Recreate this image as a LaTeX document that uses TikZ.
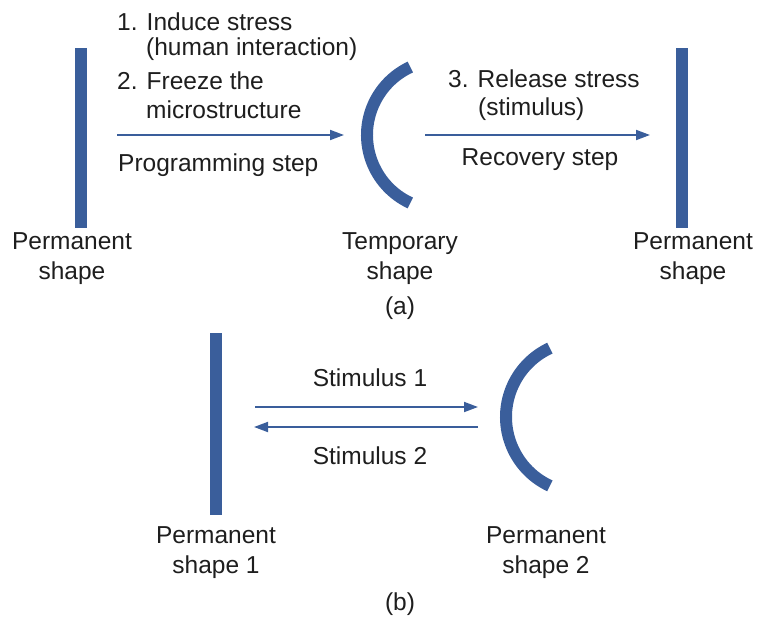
\documentclass[tikz,border=0pt]{standalone}
\usepackage{fontspec}
\setmainfont{Liberation Sans}
\usetikzlibrary{arrows.meta}
\definecolor{shapeblue}{RGB}{58,94,155}
\definecolor{txt}{RGB}{30,30,30}
\tikzset{
  bar/.style={fill=shapeblue, draw=none, minimum width=12pt, inner sep=0pt},
  curve/.style={draw=shapeblue, line width=12pt},
  conn/.style={draw=shapeblue, line width=1.8pt, -{Triangle[length=14pt,width=10pt]}},
  lbl/.style={text=txt, font=\fontsize{24.5}{30}\selectfont, inner sep=0pt, align=center},
  lbll/.style={lbl, align=left, anchor=west},
}
\begin{document}
\begin{tikzpicture}[x=1pt,y=-1pt]
\useasboundingbox (0,0) rectangle (757,621);
% (a)
\node[bar, minimum height=180pt] (barA1) at (81,138) {};
\node[bar, minimum height=180pt] (barA2) at (682,138) {};
\draw[curve] (442,135) ++(115:75) arc[start angle=115, end angle=245, radius=75];
\coordinate (a1s) at (117,135); \coordinate (a1e) at (344,135);
\coordinate (a2s) at (425,135); \coordinate (a2e) at (650,135);
\draw[conn] (a1s) -- (a1e);
\draw[conn] (a2s) -- (a2e);
\node[lbll] (t1) at (117,22) {1. Induce stress};
\node[lbll] (t2) at (146,49) {(human interaction)};
\node[lbll] (t3) at (117,81) {2. Freeze the};
\node[lbll] (t4) at (146,110) {microstructure};
\node[lbll] (t5) at (118,165) {Programming step};
\node[lbll] (t6) at (448,79) {3. Release stress};
\node[lbll] (t7) at (478,109) {(stimulus)};
\node[lbl] (t8) at (540,160) {Recovery step};
\node[lbl, anchor=north] (pA1) at (72,232) {Permanent\\shape};
\node[lbl, anchor=north] (tmp) at (400,232) {Temporary\\shape};
\node[lbl, anchor=north] (pA2) at (693,232) {Permanent\\shape};
\node[lbl] (capa) at (400,308) {(a)};
% (b)
\node[bar, minimum height=182pt] (barB) at (216,424) {};
\draw[curve] (582,417) ++(115:76) arc[start angle=115, end angle=245, radius=76];
\coordinate (b1s) at (255,407); \coordinate (b1e) at (478,407);
\coordinate (b2s) at (478,427); \coordinate (b2e) at (254,427);
\draw[conn] (b1s) -- (b1e);
\draw[conn] (b2s) -- (b2e);
\node[lbl] (s1) at (370,378) {Stimulus 1};
\node[lbl] (s2) at (370,456) {Stimulus 2};
\node[lbl, anchor=north] (pB1) at (216,526) {Permanent\\shape 1};
\node[lbl, anchor=north] (pB2) at (546,526) {Permanent\\shape 2};
\node[lbl] (capb) at (400,604) {(b)};
\end{tikzpicture}
\end{document}
